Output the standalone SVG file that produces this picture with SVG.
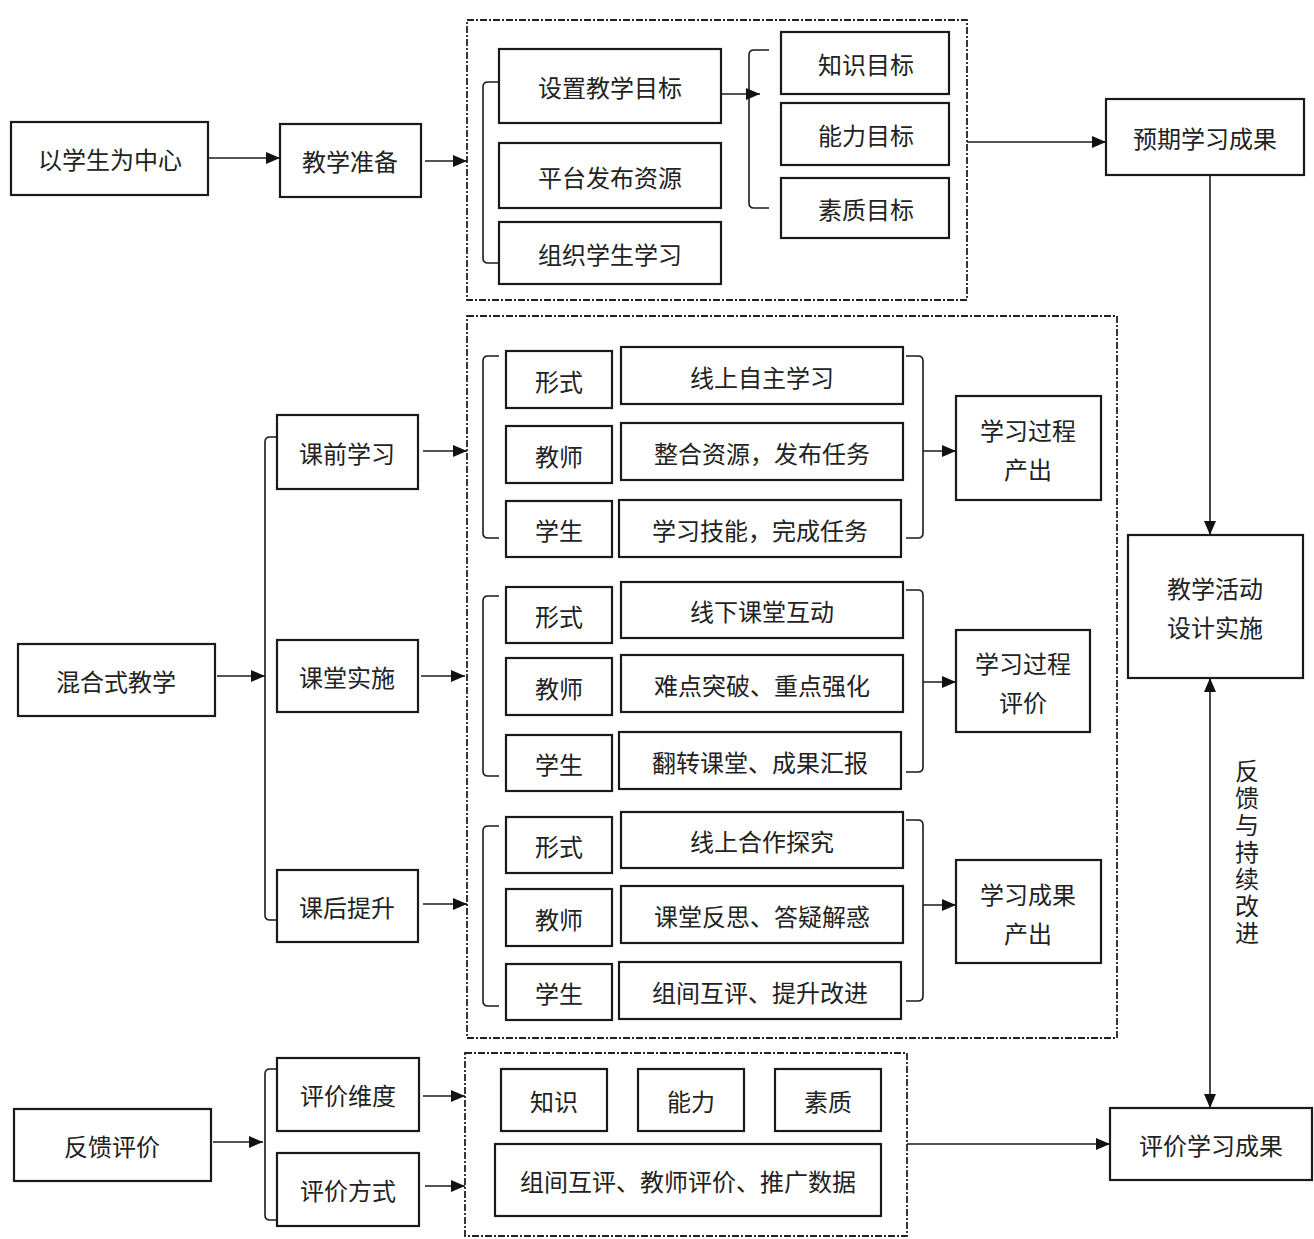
<svg xmlns="http://www.w3.org/2000/svg" width="1314" height="1239" viewBox="0 0 1314 1239">
<defs>
<marker id="ah" viewBox="0 0 14 12" refX="14" refY="6" markerWidth="14" markerHeight="12" markerUnits="userSpaceOnUse" orient="auto-start-reverse">
<path d="M0,0 L14,6 L0,12 Z" fill="#111"/>
</marker>
<style>
.b{fill:#fff;stroke:#1a1a1a;stroke-width:2.2}
.d{fill:none;stroke:#222;stroke-width:1.8;stroke-dasharray:7 2 2 2}
.t{font-family:"Noto Sans CJK SC","Liberation Sans",sans-serif;font-size:24px;fill:#222;text-anchor:middle;dominant-baseline:central}
.v{font-family:"Noto Sans CJK SC","Liberation Sans",sans-serif;font-size:24px;fill:#222;text-anchor:middle;writing-mode:vertical-rl;letter-spacing:3px}
.c{fill:none;stroke:#1a1a1a;stroke-width:1.6}
.br{fill:none;stroke:#1a1a1a;stroke-width:1.6}
</style>
</defs>
<rect width="1314" height="1239" fill="#fff"/>

<!-- dashed containers -->
<rect class="d" x="467" y="20" width="500" height="280"/>
<rect class="d" x="467" y="316" width="650" height="722"/>
<rect class="d" x="465" y="1053" width="442" height="183"/>

<g id="connectors">
<line class="c" x1="208" y1="158" x2="280" y2="158" marker-end="url(#ah)"/>
<line class="c" x1="425" y1="161" x2="467" y2="161" marker-end="url(#ah)"/>
<path class="br" d="M499,82 H488 Q483,82 483,87 V258 Q483,263 488,263 H499"/>
<line class="c" x1="721" y1="94" x2="760" y2="94" marker-end="url(#ah)"/>
<path class="br" d="M769,50 H754 Q749,50 749,55 V203 Q749,208 754,208 H769"/>
<line class="c" x1="967" y1="142" x2="1106" y2="142" marker-end="url(#ah)"/>
<line class="c" x1="1210" y1="175" x2="1210" y2="535" marker-end="url(#ah)"/>
<line class="c" x1="1210" y1="678" x2="1210" y2="1108" marker-start="url(#ah)" marker-end="url(#ah)"/>

<line class="c" x1="217" y1="676" x2="265" y2="676" marker-end="url(#ah)"/>
<path class="br" d="M277,437 H270 Q265,437 265,442 V915 Q265,920 270,920 H277"/>
<line class="c" x1="423" y1="451" x2="467" y2="451" marker-end="url(#ah)"/>
<line class="c" x1="421" y1="676" x2="465" y2="676" marker-end="url(#ah)"/>
<line class="c" x1="423" y1="904" x2="467" y2="904" marker-end="url(#ah)"/>

<path class="br" d="M499,356 H488 Q483,356 483,361 V533 Q483,538 488,538 H499"/>
<path class="br" d="M906,356 H918 Q923,356 923,361 V533 Q923,538 918,538 H906"/>
<line class="c" x1="923" y1="451" x2="956" y2="451" marker-end="url(#ah)"/>

<path class="br" d="M499,596 H488 Q483,596 483,601 V771 Q483,776 488,776 H499"/>
<path class="br" d="M906,590 H918 Q923,590 923,595 V767 Q923,772 918,772 H906"/>
<line class="c" x1="923" y1="682" x2="956" y2="682" marker-end="url(#ah)"/>

<path class="br" d="M499,826 H488 Q483,826 483,831 V1001 Q483,1006 488,1006 H499"/>
<path class="br" d="M906,820 H918 Q923,820 923,825 V996 Q923,1001 918,1001 H906"/>
<line class="c" x1="923" y1="905" x2="956" y2="905" marker-end="url(#ah)"/>

<line class="c" x1="213" y1="1142" x2="263" y2="1142" marker-end="url(#ah)"/>
<path class="br" d="M277,1069 H270 Q265,1069 265,1074 V1215 Q265,1220 270,1220 H277"/>
<line class="c" x1="423" y1="1096" x2="465" y2="1096" marker-end="url(#ah)"/>
<line class="c" x1="425" y1="1186" x2="465" y2="1186" marker-end="url(#ah)"/>
<line class="c" x1="907" y1="1144" x2="1110" y2="1144" marker-end="url(#ah)"/>
</g>

<g id="n-center"><rect class="b" x="11" y="122" width="197" height="73"/><text class="t" x="110" y="158">以学生为中心</text></g>
<g id="n-prep"><rect class="b" x="280" y="124" width="141" height="73"/><text class="t" x="350" y="160">教学准备</text></g>
<g id="n-goal"><rect class="b" x="499" y="49" width="222" height="74"/><text class="t" x="610" y="86">设置教学目标</text></g>
<g id="n-res"><rect class="b" x="499" y="143" width="222" height="65"/><text class="t" x="610" y="176">平台发布资源</text></g>
<g id="n-org"><rect class="b" x="499" y="222" width="222" height="62"/><text class="t" x="610" y="253">组织学生学习</text></g>
<g id="n-k"><rect class="b" x="781" y="32" width="168" height="62"/><text class="t" x="866" y="63">知识目标</text></g>
<g id="n-a"><rect class="b" x="781" y="103" width="168" height="62"/><text class="t" x="866" y="134">能力目标</text></g>
<g id="n-q"><rect class="b" x="781" y="178" width="168" height="60"/><text class="t" x="866" y="208">素质目标</text></g>
<g id="n-expect"><rect class="b" x="1106" y="99" width="198" height="76"/><text class="t" x="1205" y="137">预期学习成果</text></g>
<g id="n-design"><rect class="b" x="1128" y="535" width="175" height="143"/><text class="t" x="1215" y="587">教学活动</text><text class="t" x="1215" y="626">设计实施</text></g>
<g id="n-eval"><rect class="b" x="1110" y="1108" width="202" height="72"/><text class="t" x="1211" y="1144">评价学习成果</text></g>
<g id="feedback-label"><text class="v" x="1247" y="853">反馈与持续改进</text></g>

<g id="n-blend"><rect class="b" x="18" y="644" width="197" height="72"/><text class="t" x="116" y="680">混合式教学</text></g>
<g id="n-pre"><rect class="b" x="277" y="415" width="141" height="74"/><text class="t" x="347" y="452">课前学习</text></g>
<g id="n-class"><rect class="b" x="277" y="640" width="141" height="72"/><text class="t" x="347" y="676">课堂实施</text></g>
<g id="n-post"><rect class="b" x="277" y="870" width="141" height="72"/><text class="t" x="347" y="906">课后提升</text></g>

<g id="s1-form"><rect class="b" x="506" y="351" width="106" height="57"/><text class="t" x="559" y="380">形式</text></g>
<g id="s1-form-v"><rect class="b" x="621" y="347" width="282" height="57"/><text class="t" x="762" y="376">线上自主学习</text></g>
<g id="s1-teacher"><rect class="b" x="506" y="426" width="106" height="57"/><text class="t" x="559" y="455">教师</text></g>
<g id="s1-teacher-v"><rect class="b" x="621" y="423" width="282" height="57"/><text class="t" x="762" y="452">整合资源，发布任务</text></g>
<g id="s1-student"><rect class="b" x="506" y="501" width="106" height="56"/><text class="t" x="559" y="529">学生</text></g>
<g id="s1-student-v"><rect class="b" x="619" y="500" width="282" height="57"/><text class="t" x="760" y="529">学习技能，完成任务</text></g>
<g id="s1-out"><rect class="b" x="956" y="396" width="145" height="104"/><text class="t" x="1028" y="429">学习过程</text><text class="t" x="1028" y="468">产出</text></g>

<g id="s2-form"><rect class="b" x="506" y="587" width="106" height="56"/><text class="t" x="559" y="615">形式</text></g>
<g id="s2-form-v"><rect class="b" x="621" y="582" width="282" height="56"/><text class="t" x="762" y="610">线下课堂互动</text></g>
<g id="s2-teacher"><rect class="b" x="506" y="658" width="106" height="57"/><text class="t" x="559" y="687">教师</text></g>
<g id="s2-teacher-v"><rect class="b" x="621" y="655" width="282" height="57"/><text class="t" x="762" y="684">难点突破、重点强化</text></g>
<g id="s2-student"><rect class="b" x="506" y="735" width="106" height="56"/><text class="t" x="559" y="763">学生</text></g>
<g id="s2-student-v"><rect class="b" x="619" y="732" width="282" height="57"/><text class="t" x="760" y="761">翻转课堂、成果汇报</text></g>
<g id="s2-out"><rect class="b" x="956" y="630" width="134" height="102"/><text class="t" x="1023" y="662">学习过程</text><text class="t" x="1023" y="701">评价</text></g>

<g id="s3-form"><rect class="b" x="506" y="817" width="106" height="56"/><text class="t" x="559" y="845">形式</text></g>
<g id="s3-form-v"><rect class="b" x="621" y="812" width="282" height="56"/><text class="t" x="762" y="840">线上合作探究</text></g>
<g id="s3-teacher"><rect class="b" x="506" y="889" width="106" height="57"/><text class="t" x="559" y="918">教师</text></g>
<g id="s3-teacher-v"><rect class="b" x="621" y="886" width="282" height="57"/><text class="t" x="762" y="915">课堂反思、答疑解惑</text></g>
<g id="s3-student"><rect class="b" x="506" y="964" width="106" height="56"/><text class="t" x="559" y="992">学生</text></g>
<g id="s3-student-v"><rect class="b" x="619" y="962" width="282" height="57"/><text class="t" x="760" y="991">组间互评、提升改进</text></g>
<g id="s3-out"><rect class="b" x="956" y="860" width="145" height="103"/><text class="t" x="1028" y="893">学习成果</text><text class="t" x="1028" y="932">产出</text></g>

<g id="n-feedback"><rect class="b" x="14" y="1109" width="197" height="72"/><text class="t" x="112" y="1145">反馈评价</text></g>
<g id="n-dim"><rect class="b" x="277" y="1058" width="142" height="73"/><text class="t" x="348" y="1094">评价维度</text></g>
<g id="n-way"><rect class="b" x="277" y="1153" width="142" height="73"/><text class="t" x="348" y="1189">评价方式</text></g>
<g id="e-k"><rect class="b" x="501" y="1069" width="106" height="62"/><text class="t" x="554" y="1100">知识</text></g>
<g id="e-a"><rect class="b" x="638" y="1069" width="106" height="62"/><text class="t" x="691" y="1100">能力</text></g>
<g id="e-q"><rect class="b" x="775" y="1069" width="106" height="62"/><text class="t" x="828" y="1100">素质</text></g>
<g id="e-way"><rect class="b" x="495" y="1144" width="386" height="72"/><text class="t" x="688" y="1180">组间互评、教师评价、推广数据</text></g>
</svg>
